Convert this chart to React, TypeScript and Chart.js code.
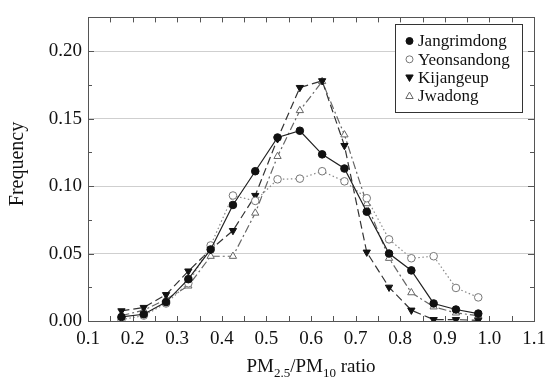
import React, { useEffect, useRef } from "react";
import { Chart, registerables } from "chart.js";

Chart.register(...registerables);

const ratioBins = [0.175, 0.225, 0.275, 0.325, 0.375, 0.425, 0.475, 0.525, 0.575, 0.625, 0.675, 0.725, 0.775, 0.825, 0.875, 0.925, 0.975];
const jangrimdong = [0.003, 0.005, 0.014, 0.031, 0.053, 0.086, 0.111, 0.136, 0.141, 0.1235, 0.113, 0.081, 0.05, 0.0375, 0.013, 0.0085, 0.0055];
const yeonsandong = [0.001, 0.004, 0.013, 0.028, 0.056, 0.093, 0.089, 0.105, 0.1055, 0.111, 0.1035, 0.091, 0.0605, 0.0465, 0.048, 0.0245, 0.0175];
const kijangeup = [0.0075, 0.01, 0.0195, 0.037, 0.053, 0.067, 0.093, 0.135, 0.173, 0.178, 0.13, 0.051, 0.025, 0.008, 0.001, 0.001, 0.0005];
const jwadong = [0.004, 0.008, 0.016, 0.026, 0.048, 0.048, 0.08, 0.122, 0.156, 0.1775, 0.138, 0.087, 0.0465, 0.021, 0.0105, 0.006, 0.004];

const seriesNames = ["Jangrimdong", "Yeonsandong", "Kijangeup", "Jwadong"];
const yTickValues = [0, 0.05, 0.1, 0.15, 0.2];
const xLabel = ["PM", "2.5", "/PM", "10", " ratio"];
const yLabel = "Frequency";

const FONT = "'Liberation Serif', 'DejaVu Serif', serif";

type Mk = { style: "circle" | "triangle"; filled: boolean; rot: number; color: string };
const markers: Mk[] = [
  { style: "circle", filled: true, rot: 0, color: "#111" },
  { style: "circle", filled: false, rot: 0, color: "#777" },
  { style: "triangle", filled: true, rot: 180, color: "#111" },
  { style: "triangle", filled: false, rot: 0, color: "#666" },
];

function drawMarker(ctx: CanvasRenderingContext2D, m: Mk, x: number, y: number, r: number) {
  ctx.save();
  ctx.beginPath();
  ctx.lineWidth = 1;
  ctx.setLineDash([]);
  if (m.style === "circle") {
    ctx.arc(x, y, r, 0, Math.PI * 2);
  } else {
    const s = m.rot === 180 ? -1 : 1;
    ctx.moveTo(x, y - s * r * 1.1);
    ctx.lineTo(x + r * 1.05, y + s * r * 0.75);
    ctx.lineTo(x - r * 1.05, y + s * r * 0.75);
    ctx.closePath();
  }
  ctx.fillStyle = m.filled ? m.color : "#fff";
  ctx.fill();
  ctx.strokeStyle = m.color;
  ctx.stroke();
  ctx.restore();
}

const decorPlugin = {
  id: "decor",
  afterDatasetsDraw(chart: any) {
    const ctx: CanvasRenderingContext2D = chart.ctx;
    const { left, right, top, bottom } = chart.chartArea;
    const xs = chart.scales.x;
    const ys = chart.scales.y;
    ctx.save();
    ctx.strokeStyle = "#555";
    ctx.lineWidth = 1;
    ctx.setLineDash([]);
    ctx.strokeRect(Math.round(left) + 0.5, Math.round(top) + 0.5, Math.round(right - left), Math.round(bottom - top));
    ctx.beginPath();
    for (let i = 1; i < 20; i++) {
      const v = 0.1 + i * 0.05;
      const px = Math.round(xs.getPixelForValue(v)) + 0.5;
      ctx.moveTo(px, bottom);
      ctx.lineTo(px, bottom - 5);
      ctx.moveTo(px, top);
      ctx.lineTo(px, top + 5);
    }
    for (let i = 1; i <= 8; i++) {
      const v = i * 0.025;
      const py = Math.round(ys.getPixelForValue(v)) + 0.5;
      const len = i % 2 === 0 ? 6 : 4;
      ctx.moveTo(left, py);
      ctx.lineTo(left + len, py);
      ctx.moveTo(right, py);
      ctx.lineTo(right - len, py);
    }
    ctx.stroke();

    const lx = 395, ly = 24, lw = 127, lh = 88;
    ctx.fillStyle = "#fff";
    ctx.fillRect(lx, ly, lw, lh);
    ctx.strokeStyle = "#333";
    ctx.strokeRect(lx + 0.5, ly + 0.5, lw, lh);
    ctx.font = `17px ${FONT}`;
    ctx.textBaseline = "middle";
    ctx.textAlign = "left";
    seriesNames.forEach((name, i) => {
      const cy = 41 + i * 18.3;
      drawMarker(ctx, markers[i], 409.5, cy, 3.5);
      ctx.fillStyle = "#111";
      ctx.fillText(name, 418, cy + 1);
    });

    const big = `19px ${FONT}`;
    const small = `13px ${FONT}`;
    const parts = xLabel.map((t, i) => ({ t, sub: i === 1 || i === 3 }));
    let total = 0;
    parts.forEach((p) => {
      ctx.font = p.sub ? small : big;
      total += ctx.measureText(p.t).width;
    });
    let cx = (left + right) / 2 - total / 2;
    const base = 372;
    ctx.textBaseline = "alphabetic";
    ctx.fillStyle = "#111";
    parts.forEach((p) => {
      ctx.font = p.sub ? small : big;
      ctx.fillText(p.t, cx, p.sub ? base + 5 : base);
      cx += ctx.measureText(p.t).width;
    });

    ctx.save();
    ctx.translate(18, 164);
    ctx.rotate(-Math.PI / 2);
    ctx.font = `20px ${FONT}`;
    ctx.textAlign = "center";
    ctx.textBaseline = "middle";
    ctx.fillText(yLabel, 0, 0);
    ctx.restore();
    ctx.restore();
  },
};

export default function App() {
  const ref = useRef<HTMLCanvasElement>(null);
  useEffect(() => {
    if (!ref.current) return;
    const mk = (vals: number[]) => vals.map((y, i) => ({ x: ratioBins[i], y }));
    const chart = new Chart(ref.current, {
      type: "line",
      data: {
        datasets: [
          {
            label: seriesNames[0],
            data: mk(jangrimdong),
            borderColor: "#222",
            borderWidth: 1.2,
            pointStyle: "circle",
            pointRadius: 3.8,
            pointBackgroundColor: "#111",
            pointBorderColor: "#111",
            pointBorderWidth: 1,
          },
          {
            label: seriesNames[1],
            data: mk(yeonsandong),
            borderColor: "#888",
            borderWidth: 1.2,
            borderDash: [1.5, 2.5],
            pointStyle: "circle",
            pointRadius: 3.8,
            pointBackgroundColor: "#fff",
            pointBorderColor: "#777",
            pointBorderWidth: 1,
          },
          {
            label: seriesNames[2],
            data: mk(kijangeup),
            borderColor: "#333",
            borderWidth: 1.2,
            borderDash: [8, 4],
            pointStyle: "triangle",
            rotation: 180,
            pointRadius: 4.2,
            pointBackgroundColor: "#111",
            pointBorderColor: "#111",
            pointBorderWidth: 1,
          },
          {
            label: seriesNames[3],
            data: mk(jwadong),
            borderColor: "#666",
            borderWidth: 1.2,
            borderDash: [8, 3, 2, 3],
            pointStyle: "triangle",
            pointRadius: 4.2,
            pointBackgroundColor: "#fff",
            pointBorderColor: "#666",
            pointBorderWidth: 1,
          },
        ],
      },
      options: {
        responsive: false,
        animation: false,
        layout: { padding: { left: 0, right: 22, top: 10, bottom: 0 } },
        plugins: { legend: { display: false }, tooltip: { enabled: false } },
        elements: { line: { tension: 0 } },
        scales: {
          x: {
            type: "linear",
            min: 0.1,
            max: 1.1,
            ticks: {
              stepSize: 0.1,
              callback: (v: any) => Number(v).toFixed(1),
              font: { family: FONT, size: 19 },
              color: "#111",
              padding: 7,
              maxRotation: 0,
              autoSkip: false,
            },
            grid: { display: false, drawTicks: false },
            border: { display: false },
            afterFit: (s: any) => {
              s.height = 59;
            },
          },
          y: {
            type: "linear",
            min: 0,
            max: 0.225,
            afterBuildTicks: (s: any) => {
              s.ticks = yTickValues.map((v) => ({ value: v }));
            },
            ticks: {
              callback: (v: any) => Number(v).toFixed(2),
              font: { family: FONT, size: 19 },
              color: "#111",
              padding: 6,
            },
            grid: {
              drawTicks: false,
              color: (c: any) => (c.tick && c.tick.value === 0 ? "rgba(0,0,0,0)" : "#cfcfcf"),
              lineWidth: 1,
            },
            border: { display: false },
            afterFit: (s: any) => {
              s.width = 88;
            },
          },
        },
      },
      plugins: [decorPlugin],
    });
    return () => chart.destroy();
  }, []);
  return (
    <div style={{ position: "absolute", left: 0, top: 0, width: 556, height: 380, background: "#fff" }}>
      <canvas ref={ref} width={556} height={380} style={{ width: 556, height: 380 }} />
    </div>
  );
}
